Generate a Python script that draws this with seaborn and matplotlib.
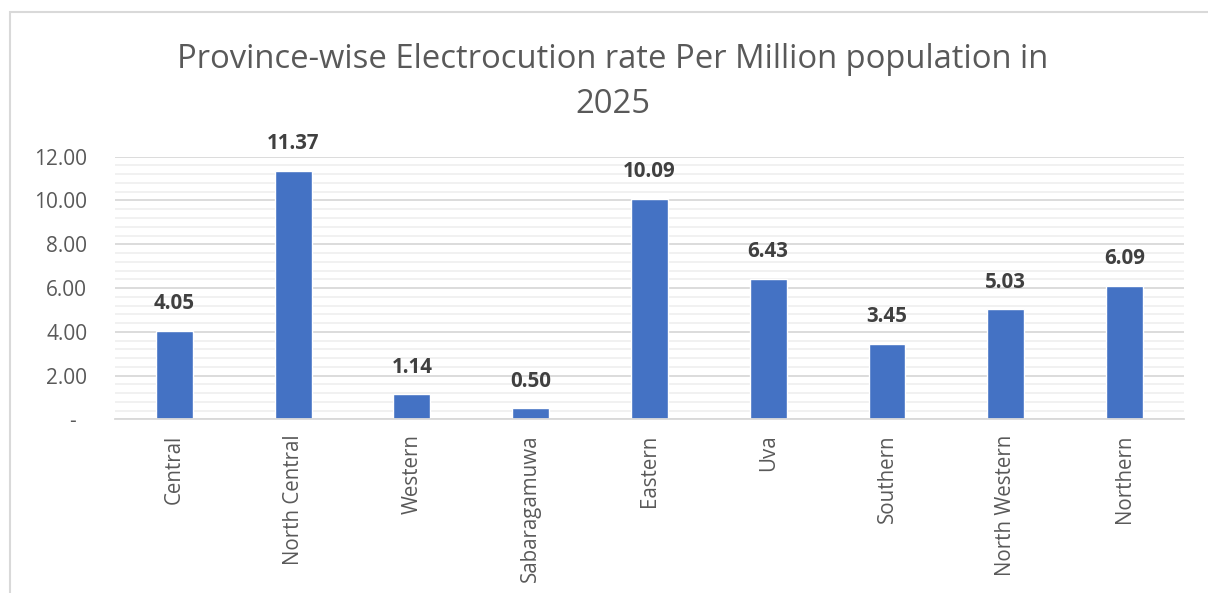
import matplotlib
matplotlib.use("Agg")
import matplotlib.pyplot as plt
from matplotlib.patches import Rectangle
from matplotlib.ticker import MultipleLocator
import seaborn as sns
import pandas as pd

provinces = ["Central", "North Central", "Western", "Sabaragamuwa", "Eastern",
             "Uva", "Southern", "North Western", "Northern"]
rates = [4.05, 11.37, 1.14, 0.50, 10.09, 6.43, 3.45, 5.03, 6.09]
y_ticks = [0, 2, 4, 6, 8, 10, 12]
y_tick_labels = ["-  ", "2.00", "4.00", "6.00", "8.00", "10.00", "12.00"]
title_lines = ["Province-wise Electrocution rate Per Million population in", "2025"]

sns.set_theme(style="white")
plt.rcParams["font.family"] = ["Open Sans", "DejaVu Sans"]

df = pd.DataFrame({"province": provinces, "rate": rates})

fig = plt.figure(figsize=(12.08, 5.93), dpi=100)
ax = fig.add_axes([0.0952, 0.2929, 0.8848, 0.4428])

sns.barplot(data=df, x="province", y="rate", color="#4472C4", width=0.31,
            saturation=1, ax=ax, zorder=3)

ax.set_xlim(-0.5, len(provinces) - 0.5)
ax.set_ylim(0, 12)
ax.set_yticks(y_ticks)
ax.set_yticklabels(y_tick_labels)
ax.yaxis.set_minor_locator(MultipleLocator(0.4))
ax.grid(which="major", axis="y", color="#D9D9D9", linewidth=1.3, zorder=0)
ax.grid(which="minor", axis="y", color="#F0F0F0", linewidth=1.3, zorder=0)
ax.set_axisbelow(True)
ax.tick_params(axis="y", which="both", length=0, pad=20, labelsize=15,
               labelcolor="#595959")
ax.tick_params(axis="x", length=0, pad=11, labelsize=14.8, labelcolor="#595959",
               labelrotation=90)
ax.set_xlabel("")
ax.set_ylabel("")
for side in ("top", "right", "left"):
    ax.spines[side].set_visible(False)
ax.spines["bottom"].set_color("#D9D9D9")
ax.spines["bottom"].set_linewidth(1.3)
ax.spines["bottom"].set_zorder(4)

for i, v in enumerate(rates):
    ax.annotate(f"{v:.2f}", xy=(i, v), xytext=(0, 12), textcoords="offset points",
                ha="center", va="bottom", fontsize=14.8, fontweight="bold",
                color="#404040")

fig.text(0.507, 1 - 68 / 593, title_lines[0], ha="center", va="baseline",
         fontsize=23.6, color="#595959")
fig.text(0.507, 1 - 113 / 593, title_lines[1], ha="center", va="baseline",
         fontsize=23.6, color="#595959")

# chart frame
fig.patches.append(Rectangle((10 / 1208, -0.1), 1.2, (593 - 12.5) / 593 + 0.1,
                             transform=fig.transFigure, fill=False,
                             edgecolor="#D9D9D9", linewidth=1.5))

fig.savefig("out.png", dpi=100)
